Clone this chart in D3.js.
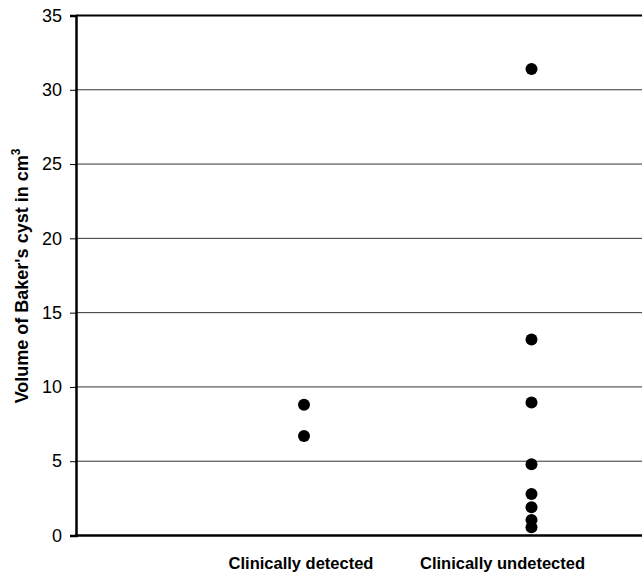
<!DOCTYPE html>
<html lang="en">
  <head>
    <meta charset="UTF-8" />
    <title>Baker's cyst volume</title>
    <script src="https://d3js.org/d3.v7.min.js"></script>
    <style>
      body { margin: 0; background: #fff; }
      svg { display: block; font-family: "Liberation Sans", Arial, sans-serif; }
    </style>
  </head>
  <body>
    <svg id="chart" width="642" height="573"></svg>

    <script>
      // categories and the cyst volumes (cm3)
      const categories = ["Clinically detected", "Clinically undetected"];
      const detected = [8.8, 6.7];
      const undetected = [31.4, 13.2, 8.95, 4.8, 2.8, 1.9, 1.05, 0.55];
      const yTicks = [0, 5, 10, 15, 20, 25, 30, 35];

      const svg = d3.select("#chart");

      // scales
      const yScale = d3.scaleLinear().domain([0, 35]).range([535.5, 15.5]);
      const xScale = d3.scalePoint().domain(categories).range([304, 531.5]);
      const labelShift = { "Clinically detected": -3, "Clinically undetected": -29 };

      // gridlines
      svg.append("g")
        .selectAll("line")
        .data(yTicks.filter((d) => d > 0 && d < 35))
        .enter()
        .append("line")
        .attr("x1", 77)
        .attr("x2", 642)
        .attr("y1", (d) => yScale(d))
        .attr("y2", (d) => yScale(d))
        .attr("stroke", "#333")
        .attr("stroke-width", 1);

      // top border
      svg.append("line")
        .attr("x1", 76).attr("x2", 642)
        .attr("y1", yScale(35)).attr("y2", yScale(35))
        .attr("stroke", "#000").attr("stroke-width", 2);

      // y axis
      const yAxis = svg.append("g")
        .attr("transform", "translate(76,0)")
        .call(d3.axisLeft(yScale).tickValues(yTicks).tickSize(6).tickPadding(8));
      yAxis.select(".domain").attr("stroke-width", 2.5);
      yAxis.selectAll(".tick line").attr("stroke-width", 1);
      yAxis.selectAll(".tick text")
        .attr("font-size", 18)
        .attr("font-family", "Liberation Sans, Arial, sans-serif")
        .attr("fill", "#000");

      // x axis line
      svg.append("line")
        .attr("x1", 75).attr("x2", 642)
        .attr("y1", yScale(0)).attr("y2", yScale(0))
        .attr("stroke", "#000").attr("stroke-width", 2.5);

      // category labels
      svg.append("g")
        .selectAll("text")
        .data(categories)
        .enter()
        .append("text")
        .attr("x", (d) => xScale(d) + labelShift[d])
        .attr("y", 569)
        .attr("text-anchor", "middle")
        .attr("font-size", 16.5)
        .attr("font-weight", "bold")
        .text((d) => d);

      // y axis title
      const title = svg.append("text")
        .attr("transform", "translate(28,276) rotate(-90)")
        .attr("text-anchor", "middle")
        .attr("font-size", 18)
        .attr("font-weight", "bold");
      title.append("tspan").text("Volume of Baker's cyst in cm");
      title.append("tspan").attr("dy", -8).attr("font-size", 12).text("3");

      // points
      const points = detected.map((v) => ({ cat: categories[0], v }))
        .concat(undetected.map((v) => ({ cat: categories[1], v })));

      svg.append("g")
        .selectAll("circle")
        .data(points)
        .enter()
        .append("circle")
        .attr("cx", (d) => xScale(d.cat))
        .attr("cy", (d) => yScale(d.v))
        .attr("r", 6)
        .attr("fill", "#000");
    </script>
  </body>
</html>
